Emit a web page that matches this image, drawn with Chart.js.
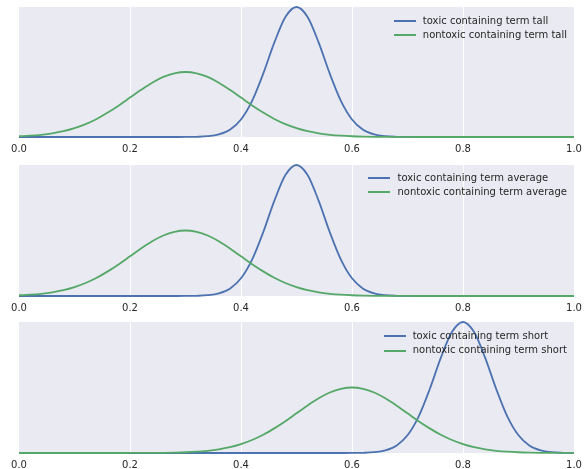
<!DOCTYPE html>
<html>
<head>
<meta charset="utf-8">
<script src="https://cdn.jsdelivr.net/npm/chart.js@4.4.0/dist/chart.umd.min.js"></script>
<style>
body { margin: 0; background: #fff; width: 584px; height: 469px; overflow: hidden; position: relative; font-family: "DejaVu Sans", sans-serif; }
.panel { position: absolute; left: 0; width: 584px; }
.leyenda { position: absolute; right: 17px; font-size: 10px; color: #262626; line-height: 14.5px; }
.fila { display: flex; align-items: center; white-space: nowrap; }
.linea { width: 22px; height: 2px; margin-right: 7px; }
</style>
</head>
<body>
<div class="panel" style="top:0px;height:155px"><canvas id="grafica1"></canvas></div>
<div class="panel" style="top:157px;height:157px"><canvas id="grafica2"></canvas></div>
<div class="panel" style="top:312px;height:159px"><canvas id="grafica3"></canvas></div>
<div class="leyenda" id="leyenda1" style="top:13.5px"></div>
<div class="leyenda" id="leyenda2" style="top:170.7px"></div>
<div class="leyenda" id="leyenda3" style="top:328.8px"></div>
<script>
// x positions (0.00 .. 1.00 every 0.02)
const xs = [0.00,0.02,0.04,0.06,0.08,0.10,0.12,0.14,0.16,0.18,0.20,0.22,0.24,0.26,0.28,0.30,0.32,0.34,0.36,0.38,0.40,0.42,0.44,0.46,0.48,0.50,0.52,0.54,0.56,0.58,0.60,0.62,0.64,0.66,0.68,0.70,0.72,0.74,0.76,0.78,0.80,0.82,0.84,0.86,0.88,0.90,0.92,0.94,0.96,0.98,1.00];

const tickLabels = ['0.0', '0.2', '0.4', '0.6', '0.8', '1.0'];

// tall
const toxicTall = [0,0,0,0,0,0,0,0,0,0,0,0,0,0,0,0.0003,0.0015,0.006,0.020,0.056,0.135,0.278,0.487,0.726,0.923,1,0.923,0.726,0.487,0.278,0.135,0.056,0.020,0.006,0.0015,0.0003,0,0,0,0,0,0,0,0,0,0,0,0,0,0,0];
const nontoxicTall = [0.0056,0.010,0.017,0.028,0.0445,0.068,0.099,0.139,0.188,0.243,0.303,0.363,0.418,0.462,0.490,0.5,0.490,0.462,0.418,0.363,0.303,0.243,0.188,0.139,0.099,0.068,0.0445,0.028,0.017,0.010,0.0056,0.003,0.0015,0.0008,0.0004,0.0002,0,0,0,0,0,0,0,0,0,0,0,0,0,0,0];

// average
const toxicAverage = [0,0,0,0,0,0,0,0,0,0,0,0,0,0,0,0.0003,0.0015,0.006,0.020,0.056,0.135,0.278,0.487,0.726,0.923,1,0.923,0.726,0.487,0.278,0.135,0.056,0.020,0.006,0.0015,0.0003,0,0,0,0,0,0,0,0,0,0,0,0,0,0,0];
const nontoxicAverage = [0.0056,0.010,0.017,0.028,0.0445,0.068,0.099,0.139,0.188,0.243,0.303,0.363,0.418,0.462,0.490,0.5,0.490,0.462,0.418,0.363,0.303,0.243,0.188,0.139,0.099,0.068,0.0445,0.028,0.017,0.010,0.0056,0.003,0.0015,0.0008,0.0004,0.0002,0,0,0,0,0,0,0,0,0,0,0,0,0,0,0];

// short
const toxicShort = [0,0,0,0,0,0,0,0,0,0,0,0,0,0,0,0,0,0,0,0,0,0,0,0,0,0,0,0,0,0,0.0003,0.0015,0.006,0.020,0.056,0.135,0.278,0.487,0.726,0.923,1,0.923,0.726,0.487,0.278,0.135,0.056,0.020,0.006,0.0015,0.0003];
const nontoxicShort = [0,0,0,0,0,0,0,0,0,0,0.0002,0.0004,0.0008,0.0015,0.003,0.0056,0.010,0.017,0.028,0.0445,0.068,0.099,0.139,0.188,0.243,0.303,0.363,0.418,0.462,0.490,0.5,0.490,0.462,0.418,0.363,0.303,0.243,0.188,0.139,0.099,0.068,0.0445,0.028,0.017,0.010,0.0056,0.003,0.0015,0.0008,0.0004,0.0002];

const azul = '#4C72B0';
const verde = '#55A868';

// fondo gris del area de dibujo
const fondo = {
    id: 'fondo',
    beforeDraw(chart) {
        const a = chart.chartArea;
        const ctx = chart.ctx;
        ctx.save();
        ctx.fillStyle = '#EAEAF2';
        ctx.fillRect(a.left, a.top, a.right - a.left, a.bottom - a.top);
        ctx.restore();
    }
};

function puntos(valores) {
    return xs.map(function (x, i) { return { x: x, y: valores[i] }; });
}

function leyenda(id, labels, colores) {
    const caja = document.getElementById(id);
    labels.forEach(function (texto, i) {
        const fila = document.createElement('div');
        fila.className = 'fila';
        const linea = document.createElement('span');
        linea.className = 'linea';
        linea.style.background = colores[i];
        const t = document.createElement('span');
        t.textContent = texto;
        fila.appendChild(linea);
        fila.appendChild(t);
        caja.appendChild(fila);
    });
}

function grafica(canvasId, leyendaId, padTop, termino, toxic, nontoxic) {
    const labelToxic = 'toxic containing term ' + termino;
    const labelNontoxic = 'nontoxic containing term ' + termino;

    const data = {
        datasets: [{
            label: labelToxic,
            data: puntos(toxic),
            borderColor: azul,
            order: 1
        }, {
            label: labelNontoxic,
            data: puntos(nontoxic),
            borderColor: verde,
            order: 0
        }]
    };

    const config = {
        type: 'line',
        data: data,
        options: {
            responsive: true,
            maintainAspectRatio: false,
            animation: false,
            layout: { padding: { top: padTop, left: 19, right: 10, bottom: 0 } },
            elements: {
                line: { borderWidth: 1.8, cubicInterpolationMode: 'monotone' },
                point: { radius: 0 }
            },
            datasets: { line: { clip: false } },
            plugins: { legend: { display: false }, tooltip: { enabled: false } },
            scales: {
                x: {
                    type: 'linear',
                    min: 0,
                    max: 1,
                    afterFit: function (scale) {
                        scale.height = 18;
                        scale.paddingLeft = 0;
                        scale.paddingRight = 0;
                    },
                    border: { display: false },
                    grid: {
                        drawTicks: false,
                        lineWidth: 1,
                        color: function (c) {
                            const v = c.tick ? c.tick.value : 0;
                            return (Math.abs(v) < 1e-6 || Math.abs(v - 1) < 1e-6) ? 'rgba(0,0,0,0)' : '#ffffff';
                        }
                    },
                    ticks: {
                        stepSize: 0.2,
                        padding: 6,
                        color: '#262626',
                        font: { family: 'DejaVu Sans', size: 10 },
                        maxRotation: 0,
                        callback: function (v) { return tickLabels[Math.round(v * 5)]; }
                    }
                },
                y: {
                    display: false,
                    min: 0,
                    max: 1
                }
            }
        },
        plugins: [fondo]
    };

    new Chart(document.getElementById(canvasId), config);
    leyenda(leyendaId, [labelToxic, labelNontoxic], [azul, verde]);
}

grafica('grafica1', 'leyenda1', 7, 'tall', toxicTall, nontoxicTall);
grafica('grafica2', 'leyenda2', 8, 'average', toxicAverage, nontoxicAverage);
grafica('grafica3', 'leyenda3', 10, 'short', toxicShort, nontoxicShort);
</script>
</body>
</html>
